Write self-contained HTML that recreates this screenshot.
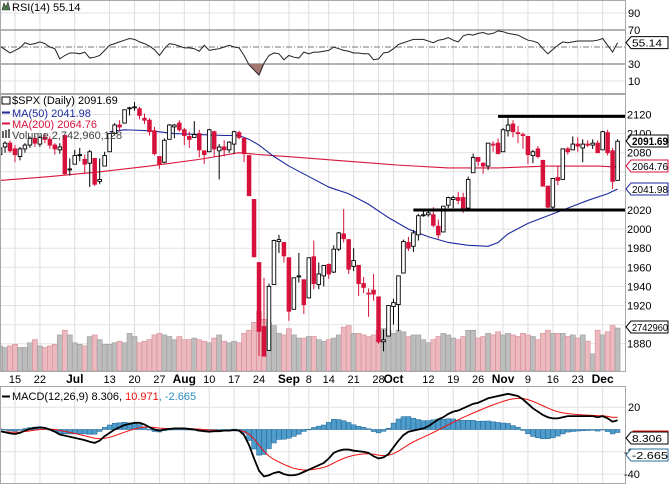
<!DOCTYPE html>
<html><head><meta charset="utf-8"><style>
html,body{margin:0;padding:0;background:#fff;}
svg{display:block;font-family:"Liberation Sans",sans-serif;}
</style></head><body>
<svg id="c" width="669" height="484" viewBox="0 0 669 484" xmlns="http://www.w3.org/2000/svg"></svg>
<script>
const opens=[2078,2086,2090,2084,2076,2084,2088,2095,2089,2096,2094,2088,2083,2098,2062,2068,2078,2073,2069,2074,2050,2066,2081,2100,2109,2111,2126,2127,2126,2116,2114,2103,2076,2070,2094,2107,2111,2104,2097,2096,2100,2082,2081,2102,2082,2086,2083,2089,2101,2095,2077,2031,1965,1898,1873,1942,1987,1986,1970,1916,1950,1947,1928,1971,1942,1951,1963,1955,1979,1995,1989,1961,1962,1943,1932,1936,1929,1882,1888,1919,1921,1954,1986,1982,1994,2014,2015,2015,2003,1997,2025,2031,2033,2033,2022,2059,2075,2069,2066,2088,2090,2081,2103,2110,2101,2098,2097,2077,2084,2072,2045,2023,2054,2052,2084,2083,2089,2085,2089,2088,2090,2083,2101,2082,2051];
const highs=[2088,2092,2093,2088,2086,2090,2097,2098,2098,2100,2097,2090,2090,2098,2074,2083,2085,2078,2083,2074,2074,2081,2100,2111,2114,2125,2128,2133,2128,2121,2116,2107,2076,2095,2110,2110,2114,2106,2102,2113,2104,2082,2105,2103,2089,2093,2092,2103,2103,2096,2077,2031,1965,1949,1943,1989,1994,1986,1970,1948,1975,1947,1970,1988,1965,1962,1964,1983,1997,2021,1989,1980,1962,1950,1938,1953,1929,1895,1920,1927,1951,1989,1992,1999,2016,2020,2019,2023,2010,2024,2034,2035,2039,2038,2055,2079,2075,2070,2090,2092,2095,2106,2116,2114,2108,2101,2097,2083,2087,2072,2045,2053,2066,2084,2086,2097,2096,2094,2093,2094,2093,2103,2104,2085,2094];
const lows=[2070,2080,2080,2070,2072,2080,2085,2086,2086,2090,2084,2078,2079,2057,2056,2068,2071,2058,2044,2045,2047,2066,2081,2098,2103,2111,2119,2124,2115,2110,2098,2077,2063,2069,2094,2095,2102,2088,2085,2096,2075,2068,2081,2076,2052,2076,2080,2079,2094,2070,2035,1971,1867,1867,1873,1942,1975,1965,1904,1916,1944,1911,1928,1937,1937,1940,1948,1954,1977,1986,1953,1956,1930,1933,1908,1925,1880,1872,1888,1900,1893,1954,1977,1976,1988,2013,2013,2002,1990,1997,2022,2022,2026,2017,2022,2059,2066,2058,2062,2081,2079,2081,2097,2096,2090,2084,2068,2069,2074,2045,2022,2019,2046,2052,2078,2083,2081,2070,2086,2084,2080,2083,2077,2042,2051];
const closes=[2085,2090,2082,2078,2084,2088,2095,2090,2096,2094,2088,2084,2086,2058,2063,2077,2077,2068,2081,2047,2052,2077,2100,2109,2107,2125,2127,2128,2119,2114,2102,2079,2068,2093,2109,2109,2104,2098,2094,2099,2083,2078,2104,2084,2086,2083,2091,2102,2096,2079,2035,1971,1893,1867,1940,1988,1989,1972,1914,1949,1951,1921,1970,1943,1953,1962,1953,1979,1996,1990,1958,1967,1943,1939,1933,1932,1882,1884,1920,1923,1951,1987,1980,1996,2014,2015,2017,2004,1994,2024,2033,2033,2030,2019,2052,2075,2071,2066,2090,2089,2079,2104,2109,2102,2100,2099,2078,2081,2076,2045,2023,2053,2051,2084,2081,2089,2087,2089,2088,2090,2080,2102,2080,2050,2092];
const volumes=[1.6,1.5,1.6,1.7,1.5,1.5,1.8,2.0,1.6,1.5,1.6,1.7,2.3,2.6,2.3,1.8,1.7,1.6,2.2,2.3,2.0,1.7,1.7,1.8,1.9,1.8,2.4,2.2,1.8,1.9,2.0,2.3,2.4,2.3,2.2,2.0,2.2,2.0,2.0,2.1,2.0,1.9,1.8,2.1,2.3,1.9,1.8,1.9,1.8,2.4,2.6,3.1,3.8,3.3,3.1,2.9,2.4,2.3,2.7,2.3,2.1,2.1,2.2,2.2,2.0,1.9,2.0,2.1,2.3,2.8,2.9,2.4,2.4,2.3,2.2,2.3,2.6,2.7,2.6,2.4,2.6,2.5,2.2,2.3,2.3,2.0,1.8,2.0,2.2,2.4,2.3,2.1,2.0,2.2,2.6,2.6,2.1,2.2,2.4,2.3,2.5,2.3,2.4,2.3,2.2,2.4,2.3,2.2,2.0,2.4,2.6,2.4,2.4,2.4,2.2,2.3,2.1,2.3,1.9,1.1,2.6,2.3,2.5,2.9,2.74];
const ma50Idx=[22,25,30,35,40,45,48,50,52,55,58,62,66,70,74,78,82,86,90,94,98,100,102,106,110,114,118,122,124];
const ma50Val=[2102,2104,2103,2100,2099,2098,2098,2094,2088,2076,2066,2055,2044,2037,2026,2012,2000,1992,1986,1983,1982,1986,1995,2006,2014,2022,2030,2037,2042];
const ma200Idx=[0,10,20,30,40,48,52,60,70,80,90,100,110,120,124];
const ma200Val=[2051,2055,2060,2066,2073,2080,2078,2075,2071,2067,2064,2064,2066,2066,2065];
const rsi=[51,47,43,46,49,55,53,54,56,54,50,48,36,40,43,43,42,44,37,38,40,46,52,54,56,58,60,59,56,54,51,47,40,48,54,53,51,49,49,48,45,52,46,47,48,50,52,50,49,40,29,23,17,31,40,43,42,35,40,38,37,44,42,44,44,45,46,50,48,46,45,43,43,42,42,35,36,43,44,48,53,55,57,59,59,59,57,55,58,59,61,58,56,63,65,64,66,67,65,66,69,68,66,65,64,61,58,57,55,48,42,47,52,56,55,56,57,57,57,57,58,60,52,44,55];
const macd=[-1.5,-2.5,-3.5,-4,-3,-1,0.5,1.5,2,1.5,0,-2,-4.5,-5.5,-6.5,-7.5,-8.5,-9.5,-11,-12,-10,-6,-3,0,2,4,5,6,6,4.5,2,0,-1,0,0.5,1,1,1,0.5,0,-1,-1.5,-2,-1.5,-1.5,-1,-1,-0.5,-1,-5,-14,-26,-37,-42,-41,-39,-38,-40,-41,-41,-40,-38,-36,-34,-32,-30,-26,-21,-19,-18,-18,-19,-19.5,-20,-21,-24,-26,-25,-22,-16,-10,-5,-2,-1,0,1,3,6,9,11,14,16,17,19,21,23,24,26,28,29,30,31,32,31,30,27,23,19,16,13,11,10,10,11,12,12,12,12,12,12,11,12,10,7,8.3];
const signal=[-2,-2,-2.3,-2.5,-2.3,-1.8,-1.2,-0.6,0,0.3,0.3,0,-0.8,-1.7,-2.6,-3.6,-4.6,-5.6,-6.7,-7.8,-8.3,-7.9,-7,-5.6,-4,-2.4,-0.9,0.5,1.6,2.2,2.2,1.8,1.2,1,0.9,0.9,0.9,0.9,0.8,0.6,0.3,-0.1,-0.5,-0.7,-0.9,-0.9,-0.9,-0.8,-0.9,-1.7,-4.2,-8.5,-14,-19.6,-23.9,-26.9,-29.1,-31.3,-33.2,-34.8,-35.8,-36.3,-36.2,-35.8,-35,-34,-32.4,-30.1,-27.9,-25.9,-24.3,-23.2,-22.4,-21.9,-21.7,-22.2,-23,-23.4,-23.1,-21.7,-19.4,-16.5,-13.6,-11.1,-8.9,-6.9,-4.9,-2.7,-0.4,1.9,4.3,6.6,8.7,10.8,12.8,14.8,16.7,18.5,20.4,22.1,23.7,25.2,26.6,27.5,28,27.8,26.8,25.2,23.4,21.3,19.2,17.4,15.9,14.9,14.3,13.8,13.4,13.1,12.9,12.7,12.4,12.3,11.8,10.9,11];
const tickIdx=[3,8,15,22,27,32,37,42,47,52,58,62,66,71,76,79,86,91,96,101,106,111,116,121];
const tickLabels=["15","22","Jul","13","20","27","Aug","10","17","24","Sep","8","14","21","28","Oct","12","19","26","Nov","9","16","23","Dec"];
const priceTicks=[2120,2100,2080,2060,2040,2020,2000,1980,1960,1940,1920,1900,1880];
const rsiTicks=[90,70,50,30,10];
const macdTicks=[20,0,-20,-40];
const supportLevels=[2118,2020];
const supportStart=[100,83];

const S=document.getElementById('c');
const NS='http://www.w3.org/2000/svg';
function mk(t,a,p){const e=document.createElementNS(NS,t);for(const k in a)e.setAttribute(k,a[k]);(p||S).appendChild(e);return e;}
const R=625;
const X=i=>15+(i-3)*4.98;
const YP=p=>210+(2020-p)*0.955;
const YR=v=>30+(70-v)*0.85;
const YM=v=>429.5-v*1.115;
const VB=371, VS=43/2.74296;

const grid=mk('g',{});


tickIdx.forEach(i=>{[[0,93],[94,371],[386,483]].forEach(r=>{mk('line',{x1:X(i),x2:X(i),y1:r[0],y2:r[1],stroke:'#dedede','stroke-width':1},grid);});});
priceTicks.forEach(p=>mk('line',{x1:0,x2:R,y1:YP(p),y2:YP(p),stroke:'#e2e2e2'},grid));
[90,10].forEach(v=>mk('line',{x1:0,x2:R,y1:YR(v),y2:YR(v),stroke:'#e2e2e2'},grid));
[20,-20,-40].forEach(v=>mk('line',{x1:0,x2:R,y1:YM(v),y2:YM(v),stroke:'#e2e2e2'},grid));

const vg=mk('g',{});


volumes.forEach((v,i)=>{const down=i>0&&closes[i]<closes[i-1];const h=v*VS;
 const b=mk('rect',{x:X(i)-2.5,y:VB-h,width:5,height:h,fill:down?'#ecb9bf':'#bdbdbd',stroke:down?'#d68b96':'#9c9c9c','stroke-width':0.6},vg);
 
 });

function poly(idx,val,col,name){const l=mk('polyline',{points:idx.map((i,k)=>X(i)+','+YP(val[k])).join(' '),fill:'none',stroke:col,'stroke-width':1.1});
 
 }
poly(ma200Idx,ma200Val,'#d8163c','ma200-line');
poly(ma50Idx,ma50Val,'#1c2a9c','ma50-line');

const cg=mk('g',{});


closes.forEach((c,i)=>{const o=opens[i];const down=i>0&&c<closes[i-1];const col=down?'#d6123c':'#000';const x=X(i);
 mk('line',{x1:x,x2:x,y1:YP(highs[i]),y2:YP(lows[i]),stroke:col,'stroke-width':1},cg);
 const t=Math.min(YP(o),YP(c)),h=Math.max(1,Math.abs(YP(o)-YP(c)));
 const b=mk('rect',{x:x-1.8,y:t,width:3.6,height:h,fill:c<o?col:'#fff',stroke:col,'stroke-width':0.9},cg);
 
 });

supportLevels.forEach((p,k)=>{const l=mk('line',{x1:X(supportStart[k]),x2:R,y1:YP(p),y2:YP(p),stroke:'#000','stroke-width':3});
 
 });

mk('line',{x1:0,x2:R,y1:YR(70),y2:YR(70),stroke:'#666'});
mk('line',{x1:0,x2:R,y1:YR(30),y2:YR(30),stroke:'#666'});
mk('line',{x1:0,x2:R,y1:YR(50),y2:YR(50),stroke:'#777','stroke-dasharray':'6,2,1,2'});
let fillPts=[];rsi.forEach((v,i)=>{if(v<30)fillPts.push(i);});
if(fillPts.length){const a=fillPts[0]-1,b=fillPts[fillPts.length-1]+1;
 const xa=X(a)+(X(a+1)-X(a))*(rsi[a]-30)/(rsi[a]-rsi[a+1]);const xb=X(b-1)+(X(b)-X(b-1))*(30-rsi[b-1])/(rsi[b]-rsi[b-1]);
 let pts=xa+','+YR(30);fillPts.forEach(i=>pts+=' '+X(i)+','+YR(rsi[i]));pts+=' '+xb+','+YR(30);
 const f=mk('polygon',{points:pts,fill:'#a47670',stroke:'none'});
 
 }
const rl=mk('polyline',{points:rsi.map((v,i)=>X(i)+','+YR(v)).join(' '),fill:'none',stroke:'#222','stroke-width':1});



const hg=mk('g',{});


macd.forEach((m,i)=>{const d=m-signal[i];const y0=YM(0),y1=YM(d);
 const b=mk('rect',{x:X(i)-2.4,y:Math.min(y0,y1),width:4.8,height:Math.max(0.5,Math.abs(y1-y0)),fill:'#4d9ccb',stroke:'#2b6f9c','stroke-width':0.6},hg);
 
 });
const sl=mk('polyline',{points:signal.map((v,i)=>X(i)+','+YM(v)).join(' '),fill:'none',stroke:'#f01010','stroke-width':1});


const ml=mk('polyline',{points:macd.map((v,i)=>X(i)+','+YM(v)).join(' '),fill:'none',stroke:'#000','stroke-width':1.8});



[[0,0,R,93],[0,94,R,277],[0,386,R,97]].forEach(r=>mk('rect',{x:r[0]+0.5,y:r[1]+0.5,width:r[2],height:r[3],fill:'none',stroke:'#a8a8a8'}));

function txt(x,y,s,o){const t=mk('text',Object.assign({x:x,y:y,'font-size':11,fill:'#000'},o||{}));t.textContent=s;return t;}
const hide=[2060,2040,1900];
priceTicks.forEach(p=>{if(hide.indexOf(p)<0){const t=txt(627,YP(p)+4,String(p));}});
rsiTicks.forEach(v=>{if(v!==50){const t=txt(628,YR(v)+4,String(v));}});
macdTicks.forEach(v=>{if(v!==0){const t=txt(v<0?624:628,YM(v)+4,String(v));}});
tickIdx.forEach((i,k)=>{const m=/[A-Z]/.test(tickLabels[k]);const t=txt(X(i),383,tickLabels[k],{'text-anchor':'middle','font-weight':m?'bold':'normal','font-size':m?12:11});});

function tag(y,s,col,bold,name){const g=mk('g',{});
 mk('polygon',{points:`${R+1},${y} ${R+6},${y-6} 668,${y-6} 668,${y+6} ${R+6},${y+6}`,fill:'#fff',stroke:col,'stroke-width':1},g);
 const w=Math.min(36,s.length*6);
 const t=txt(R+7,y+4,s,{'font-weight':bold?'bold':'normal',fill:'#000','font-size':bold?11:10.5,textLength:w,lengthAdjust:'spacingAndGlyphs'});g.appendChild(t);}
tag(YR(55.14),'55.14','#000',false,'rsi-value-tag');
tag(141,'2091.69','#000',true,'price-value-tag');
tag(166,'2064.76','#d6123c',false,'ma200-value-tag');
tag(189,'2041.98','#1c2a9c',false,'ma50-value-tag');
tag(327,'2742960','#000',false,'volume-value-tag');
mk('rect',{x:R+8,y:431,width:35,height:12,fill:'#fff',stroke:'#f01010'});
tag(438,'8.306','#000',false,'macd-value-tag');
tag(455,'-2.665','#2b6f9c',false,'histogram-value-tag');

function leg(y,parts,name){const t=mk('text',{x:12,y:y,'font-size':11});
 parts.forEach(p=>{const s=mk('tspan',{fill:p[1]},t);s.textContent=p[0];});}
mk('path',{d:'M2,10 L4,3 L6,7 L8,2 L10,10 Z',fill:'#4a7a4a',stroke:'#333','stroke-width':0.6});
leg(11,[['RSI(14) 55.14','#000']],'rsi-legend');
mk('rect',{x:2,y:97,width:8,height:7,fill:'none',stroke:'#000'});
leg(104,[['$SPX (Daily) 2091.69','#000']],'price-legend');
mk('line',{x1:2,x2:10,y1:112.5,y2:112.5,stroke:'#1c2a9c','stroke-width':2});
leg(117,[['MA(50) 2041.98','#1c2a9c']],'ma50-legend');
mk('line',{x1:2,x2:10,y1:123.5,y2:123.5,stroke:'#d6123c','stroke-width':2});
leg(128,[['MA(200) 2064.76','#d6123c']],'ma200-legend');
[2,5,8].forEach((x,k)=>mk('rect',{x:x,y:131+k*-1,width:2,height:7-k*-1,fill:'#666'}));
leg(139,[['Volume 2,742,960,128','#444']],'volume-legend');
mk('line',{x1:2,x2:10,y1:396.5,y2:396.5,stroke:'#000','stroke-width':2});
leg(400,[['MACD(12,26,9) 8.306, ','#000'],['10.971','#f01010'],[', -2.665','#2b8cc4']],'macd-legend');
</script>
</body></html>
